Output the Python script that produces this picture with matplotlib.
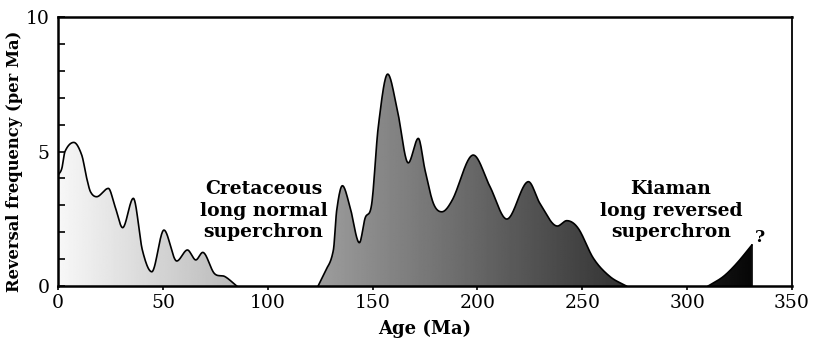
import numpy as np
import matplotlib
matplotlib.use("Agg")
import matplotlib.pyplot as plt
from matplotlib.path import Path
from matplotlib.patches import PathPatch

# reversal frequency (age in Ma, frequency per Ma)
age_young = [0, 1.8, 3.3, 7.5, 11.3, 13.7, 15.5, 18.4, 24, 27.2, 30.8, 35.9, 40.2, 44.7,
             50.5, 56.6, 61.7, 65.7, 69, 74.5, 79.6, 85.2]
freq_young = [4.12, 4.37, 5.0, 5.34, 4.87, 4.0, 3.5, 3.32, 3.63, 2.95, 2.17, 3.26, 1.34, 0.53,
              2.08, 0.93, 1.34, 0.97, 1.25, 0.47, 0.35, 0.0]

age_mid = [124, 127.3, 131.3, 132.9, 135.6, 139.2, 143.7, 146.4, 149.6, 152.7,
           157.2, 161.8, 167, 171.8, 175, 179, 183, 188, 198, 206, 214,
           224.3, 229.8, 238.1, 242.6, 248.1, 255.3, 263.2, 271]
freq_mid = [0.0, 0.53, 1.34, 2.83, 3.73, 2.95, 1.61, 2.52, 3.07, 5.92,
            7.88, 6.54, 4.58, 5.49, 4.31, 3.07, 2.76, 3.2, 4.87, 3.69, 2.49,
            3.88, 3.07, 2.23, 2.43, 2.14, 1.03, 0.35, 0.0]

age_old = [310, 317.2, 323.6, 330.8]
freq_old = [0.0, 0.35, 0.84, 1.52]


def smooth(x, y, n=600):
    # cubic Hermite curve; flat tangents at local peaks and troughs
    x = np.asarray(x, float)
    y = np.asarray(y, float)
    h = np.diff(x)
    d = np.diff(y) / h
    m = np.zeros_like(y)
    m[0], m[-1] = d[0], d[-1]
    for k in range(1, len(x) - 1):
        if d[k - 1] * d[k] > 0:
            m[k] = (y[k + 1] - y[k - 1]) / (x[k + 1] - x[k - 1])
    xs = np.linspace(x[0], x[-1], n)
    i = np.clip(np.searchsorted(x, xs) - 1, 0, len(x) - 2)
    t = (xs - x[i]) / h[i]
    h00 = 2 * t**3 - 3 * t**2 + 1
    h10 = t**3 - 2 * t**2 + t
    h01 = -2 * t**3 + 3 * t**2
    h11 = t**3 - t**2
    ys = h00 * y[i] + h10 * h[i] * m[i] + h01 * y[i + 1] + h11 * h[i] * m[i + 1]
    return xs, np.maximum(ys, 0)


plt.rcParams['font.family'] = 'DejaVu Serif'

fig = plt.figure(figsize=(8.14, 3.42), dpi=100)
ax = fig.add_axes([0.0713, 0.1637, 0.9017, 0.7863])
ax.set_xlim(0, 350)
ax.set_ylim(0, 10)

# grey ramp, light on the young side, black on the old side
ramp = np.clip(np.linspace(0.97, 0.03 - 20 / 330 * 0.94, 700), 0, 1).reshape(1, -1)

for xa, ya in [(age_young, freq_young), (age_mid, freq_mid), (age_old, freq_old)]:
    xs, ys = smooth(xa, ya)
    verts = np.column_stack([np.r_[xs, xs[-1], xs[0]], np.r_[ys, 0, 0]])
    patch = PathPatch(Path(verts), facecolor='none', edgecolor='none')
    ax.add_patch(patch)
    im = ax.imshow(ramp, cmap='gray', vmin=0, vmax=1, extent=[0, 350, 0, 10],
                   aspect='auto', interpolation='bilinear', zorder=1)
    im.set_clip_path(patch)
    ax.plot(xs, ys, color='black', lw=1.2, zorder=2)

# vertical cut at the end of the oldest segment
ax.plot([age_old[-1], age_old[-1]], [0, freq_old[-1]], color='black', lw=1.2)

ax.text(98, 2.8, "Cretaceous\nlong normal\nsuperchron", ha='center', va='center',
        fontsize=13.5, fontweight='bold', linespacing=1.25)
ax.text(292.3, 2.8, "Kiaman\nlong reversed\nsuperchron", ha='center', va='center',
        fontsize=13.5, fontweight='bold', linespacing=1.25)
ax.text(334.8, 1.8, "?", ha='center', va='center', fontsize=12.5, fontweight='bold')

ax.set_xticks(np.arange(0, 351, 50))
ax.set_yticks(np.arange(0, 11, 1))
ax.set_yticklabels(['0', '', '', '', '', '5', '', '', '', '', '10'])
ax.tick_params(axis='y', direction='in', length=5, width=1.2, labelsize=13.5, pad=6)
ax.tick_params(axis='x', direction='out', length=3, width=1.2, labelsize=13.5, pad=3)
for s in ax.spines.values():
    s.set_linewidth(1.8)
ax.spines['right'].set_linewidth(1.3)

ax.set_xlabel("Age (Ma)", fontsize=13, fontweight='bold')
ax.set_ylabel("Reversal frequency (per Ma)", fontsize=11.8, fontweight='bold')
ax.xaxis.set_label_coords(0.5, -0.125)
ax.yaxis.set_label_coords(-0.048, 0.465)

fig.savefig("out.png", dpi=100)
